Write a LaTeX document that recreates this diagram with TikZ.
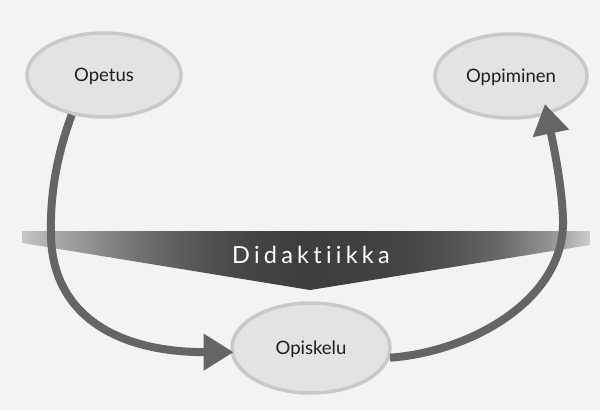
\documentclass[tikz,border=0pt]{standalone}
\usepackage{fontspec}
\setmainfont{Lato}
\newfontfamily\bandfont[LetterSpace=18, Ligatures={NoCommon}]{Lato}
\usetikzlibrary{shapes.geometric,arrows.meta}

\definecolor{pagebg}{HTML}{F3F3F3}
\definecolor{ovalfill}{HTML}{E3E3E3}
\definecolor{ovalline}{HTML}{C9C9C9}
\definecolor{flowgray}{HTML}{656565}
\definecolor{labelink}{HTML}{1E1E1E}

% light ends, dark middle of the band
\pgfdeclarehorizontalshading{didaband}{100bp}{%
  color(0bp)=(black!22); color(25bp)=(black!22); color(27.5bp)=(black!33);
  color(31.9bp)=(black!46); color(36.3bp)=(black!58); color(40.7bp)=(black!67);
  color(45.1bp)=(black!73); color(50bp)=(black!76); color(54bp)=(black!75);
  color(58.3bp)=(black!73); color(62.7bp)=(black!68); color(67.1bp)=(black!59);
  color(71.5bp)=(black!42); color(75bp)=(black!20); color(100bp)=(black!20)}

\tikzset{
  oval/.style={ellipse, draw=ovalline, line width=3.5pt, fill=ovalfill,
    inner sep=0pt, text=labelink, font=\fontsize{18.5}{20}\selectfont,
    text height=13pt, text depth=0pt},
  flow/.style={draw=flowgray, line width=8pt,
    -{Triangle[length=30pt,width=35pt]}},
  bandlabel/.style={text=white, font=\bandfont\fontsize{23.5}{26}\selectfont,
    anchor=base, inner sep=0pt}
}

\begin{document}
\begin{tikzpicture}[x=1pt, y=-1pt]
  % page
  \fill[pagebg] (0,0) rectangle (600,410);
  \useasboundingbox (0,0) rectangle (600,410);

  % Didaktiikka band
  \shade[shading=didaband]
    (22,231) -- (590,231) -- (590,245) -- (310,290) -- (22,243) -- cycle;
  \node[bandlabel] (dida) at (311,263) {Didaktiikka};

  % the three stages
  \node[oval, minimum width=154pt, minimum height=84pt] (opetus) at (104,75) {Opetus};
  \node[oval, minimum width=152pt, minimum height=84pt] (oppiminen) at (511,76) {Oppiminen};
  \node[oval, minimum width=158pt, minimum height=90pt] (opiskelu) at (311,348) {Opiskelu};

  % flows
  \draw[flow, shorten >=-3pt] (opetus.231)
    .. controls (55,160) and (50,200) .. (51,235)
    .. controls (52,310) and (110,352) .. (opiskelu.183);
  \draw[flow, shorten >=-11pt] (opiskelu.353)
    .. controls (470,352) and (565,300) .. (563,220)
    .. controls (562,185) and (553,143) .. (oppiminen.313);
\end{tikzpicture}
\end{document}
